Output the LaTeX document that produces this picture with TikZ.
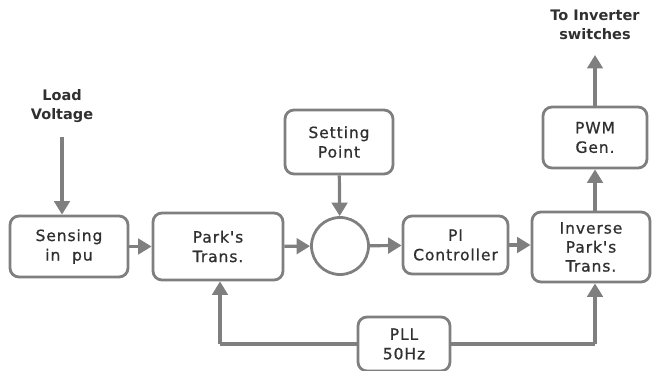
\documentclass[tikz,border=0pt]{standalone}
\usepackage{fontspec}
\setmainfont{DejaVu Sans}
\newfontfamily\blockfont[LetterSpace=6,FakeBold=0.8]{DejaVu Sans}
\usetikzlibrary{arrows.meta}
\definecolor{linegray}{HTML}{7F7F7F}
\definecolor{txtgray}{HTML}{303030}
\begin{document}
\begin{tikzpicture}[x=1pt,y=-1pt,
  block/.style={draw=linegray, line width=2.8pt, rounded corners=9pt, fill=white,
    align=center, font=\blockfont\fontsize{15.5}{19.5}\selectfont, text=txtgray, inner sep=0pt},
  sumnode/.style={draw=linegray, line width=2.8pt, circle, minimum size=57pt, inner sep=0pt},
  flow/.style={draw=linegray, line width=3.2pt, -{Triangle[length=13.5pt,width=15.5pt]}},
  wire/.style={draw=linegray, line width=3.2pt},
  label/.style={align=center, font=\bfseries\fontsize{14.5}{19.5}\selectfont, text=txtgray}]
\useasboundingbox (0,0) rectangle (652,371);

% blocks
\node[block, minimum width=118pt, minimum height=61pt] (sense) at (69,246.5) {Sensing\\in\ \ pu};
\node[block, minimum width=130pt, minimum height=67pt] (park) at (218,246.5) {Park's\\Trans.};
\node[sumnode] (sum) at (340,246) {};
\node[block, minimum width=108pt, minimum height=64pt] (set) at (339,142) {Setting\\Point};
\node[block, minimum width=105pt, minimum height=58pt] (pi) at (455.5,245) {PI\\Controller};
\node[block, minimum width=118pt, minimum height=70pt, font=\blockfont\fontsize{15.5}{19}\selectfont] (ipark) at (591,247) {Inverse\\Park's\\Trans.};
\node[block, minimum width=104pt, minimum height=61pt] (pwm) at (595,137.5) {PWM\\Gen.};
\node[block, minimum width=92pt, minimum height=54pt] (pll) at (404,344) {PLL\\50Hz};

% external signals
\node[label] (load) at (62,106) {Load\\Voltage};
\node[label] (out) at (595,25) {To Inverter\\switches};
\coordinate (loadend) at (62,137);
\coordinate (outend) at (595,55);

% signal path
\draw[flow] (loadend) -- (sense.north -| loadend);
\draw[flow] (sense) -- (park);
\draw[flow] (park) -- (sum);
\draw[flow] (set) -- (sum);
\draw[flow] (sum) -- (pi);
\draw[flow] (pi) -- (ipark.west |- pi);
\draw[flow] (ipark.north -| pwm) -- (pwm.south);
\draw[flow] (pwm) -- (outend);

% phase reference from the PLL
\coordinate (pllL) at (220,344);
\coordinate (pllR) at (595,344);
\draw[wire] (pll.west) -- (pllL);
\draw[flow] (pllL) -- (park.south -| pllL);
\draw[wire] (pll.east) -- (pllR);
\draw[flow] (pllR) -- (ipark.south -| pllR);
\end{tikzpicture}
\end{document}
